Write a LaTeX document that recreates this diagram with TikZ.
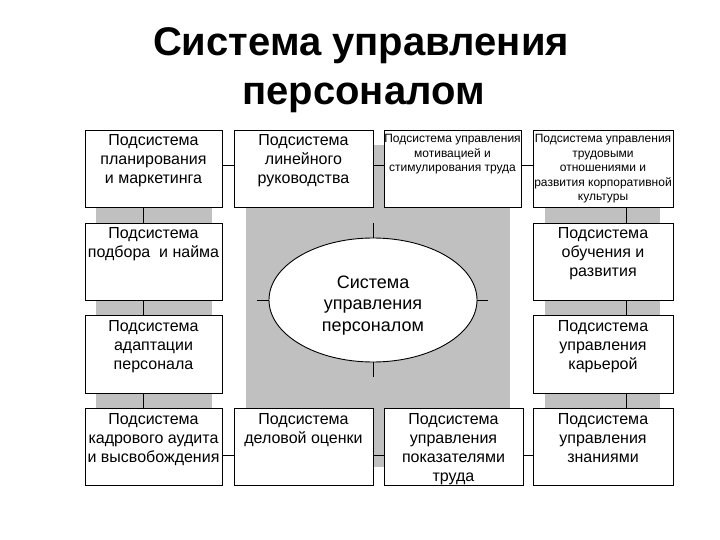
\documentclass[tikz,border=0pt]{standalone}
\usepackage{fontspec}
\setmainfont{Liberation Sans}
\usetikzlibrary{shapes.geometric}
\definecolor{strip}{RGB}{192,192,192}
\newcommand\lns[1]{\begin{tabular}[t]{@{}c@{}}#1\end{tabular}}
\begin{document}
\begin{tikzpicture}[x=1pt,y=-1pt,
  box/.style={draw=black, line width=0.9pt, fill=white, rectangle, inner sep=0pt, minimum width=137pt, minimum height=77pt},
  txt/.style={anchor=base, inner sep=0pt, font=\fontsize{16}{19}\selectfont},
  stxt/.style={anchor=base, inner sep=0pt, font=\fontsize{12}{14.5}\selectfont},
  link/.style={draw=black, line width=0.9pt},
  ttl/.style={anchor=base, inner sep=0pt, font=\fontsize{40}{48}\selectfont\bfseries}]
\useasboundingbox (0,0) rectangle (720,540);
\fill[white] (0,0) rectangle (720,540);
% grey backgrounds
\fill[strip] (96,145) rectangle (212,467);
\fill[strip] (246,145) rectangle (510,467);
\fill[strip] (545,145) rectangle (660,467);
% title
\node[ttl] (t1) at (361,56) {Система управления};
\node[ttl] (t2) at (363.5,105) {персоналом};
% helper coordinates
\coordinate (ty) at (0,165);
\coordinate (by) at (0,455);
\coordinate (lx) at (143,0);
\coordinate (rx) at (626,0);
% boxes
\node[box] (b1) at (153.5,168.5) {};
\node[box, minimum width=139pt] (b2) at (303.5,168.5) {};
\node[box] (b3) at (452.5,168.5) {};
\node[box, minimum width=140pt] (b4) at (603,168.5) {};
\node[box] (l1) at (153.5,261.5) {};
\node[box, minimum height=78pt] (l2) at (153.5,354) {};
\node[box, minimum width=140pt] (r1) at (603,261.5) {};
\node[box, minimum width=140pt, minimum height=78pt] (r2) at (603,354) {};
\node[box] (d1) at (153.5,446.5) {};
\node[box, minimum width=139pt] (d2) at (303.5,446.5) {};
\node[box, minimum width=139pt] (d3) at (453.5,446.5) {};
\node[box, minimum width=140pt] (d4) at (603,446.5) {};
% ellipse
\node[draw=black, line width=0.9pt, fill=white, ellipse, inner sep=0pt, minimum width=208pt, minimum height=124pt] (core) at (373,300) {};
% texts
\node[txt] (tb1) at (153.5,146) {\lns{Подсистема\\планирования\\и маркетинга}};
\node[txt] (tb2) at (303.5,146) {\lns{Подсистема\\линейного\\руководства}};
\node[stxt] (tb3) at (452.5,143) {\lns{Подсистема управления\\мотивацией и\\стимулирования труда}};
\node[stxt] (tb4) at (603,143) {\lns{Подсистема управления\\трудовыми\\отношениями и\\развития корпоративной\\культуры}};
\node[txt] (tl1) at (153.5,239) {\lns{Подсистема\\подбора\ \ и найма}};
\node[txt] (tl2) at (153.5,331) {\lns{Подсистема\\адаптации\\персонала}};
\node[txt] (tr1) at (603,239) {\lns{Подсистема\\обучения и\\развития}};
\node[txt] (tr2) at (603,331) {\lns{Подсистема\\управления\\карьерой}};
\node[txt] (td1) at (153.5,424) {\lns{Подсистема\\кадрового аудита\\и высвобождения}};
\node[txt] (td2) at (303.5,424) {\lns{Подсистема\\деловой оценки}};
\node[txt] (td3) at (453.5,424) {\lns{Подсистема\\управления\\показателями\\труда}};
\node[txt] (td4) at (603,424) {\lns{Подсистема\\управления\\знаниями}};
\node[anchor=base, inner sep=0pt, font=\fontsize{18}{21.5}\selectfont] (tc) at (373,288) {\lns{Система\\управления\\персоналом}};
% horizontal connectors
\draw[link] (b1.east |- ty) -- (b2.west |- ty);
\draw[link] (b2.east |- ty) -- (b3.west |- ty);
\draw[link] (b3.east |- ty) -- (b4.west |- ty);
\draw[link] (d1.east |- by) -- (d2.west |- by);
\draw[link] (d2.east |- by) -- (d3.west |- by);
\draw[link] (d3.east |- by) -- (d4.west |- by);
% vertical connectors
\draw[link] (b1.south -| lx) -- (l1.north -| lx);
\draw[link] (l1.south -| lx) -- (l2.north -| lx);
\draw[link] (l2.south -| lx) -- (d1.north -| lx);
\draw[link] (b4.south -| rx) -- (r1.north -| rx);
\draw[link] (r1.south -| rx) -- (r2.north -| rx);
\draw[link] (r2.south -| rx) -- (d4.north -| rx);
% ellipse ticks
\draw[link] (core.north) -- ++(0,-15);
\draw[link] (core.south) -- ++(0,15);
\draw[link] (core.west) -- ++(-12,0);
\draw[link] (core.east) -- ++(11,0);
\end{tikzpicture}
\end{document}
